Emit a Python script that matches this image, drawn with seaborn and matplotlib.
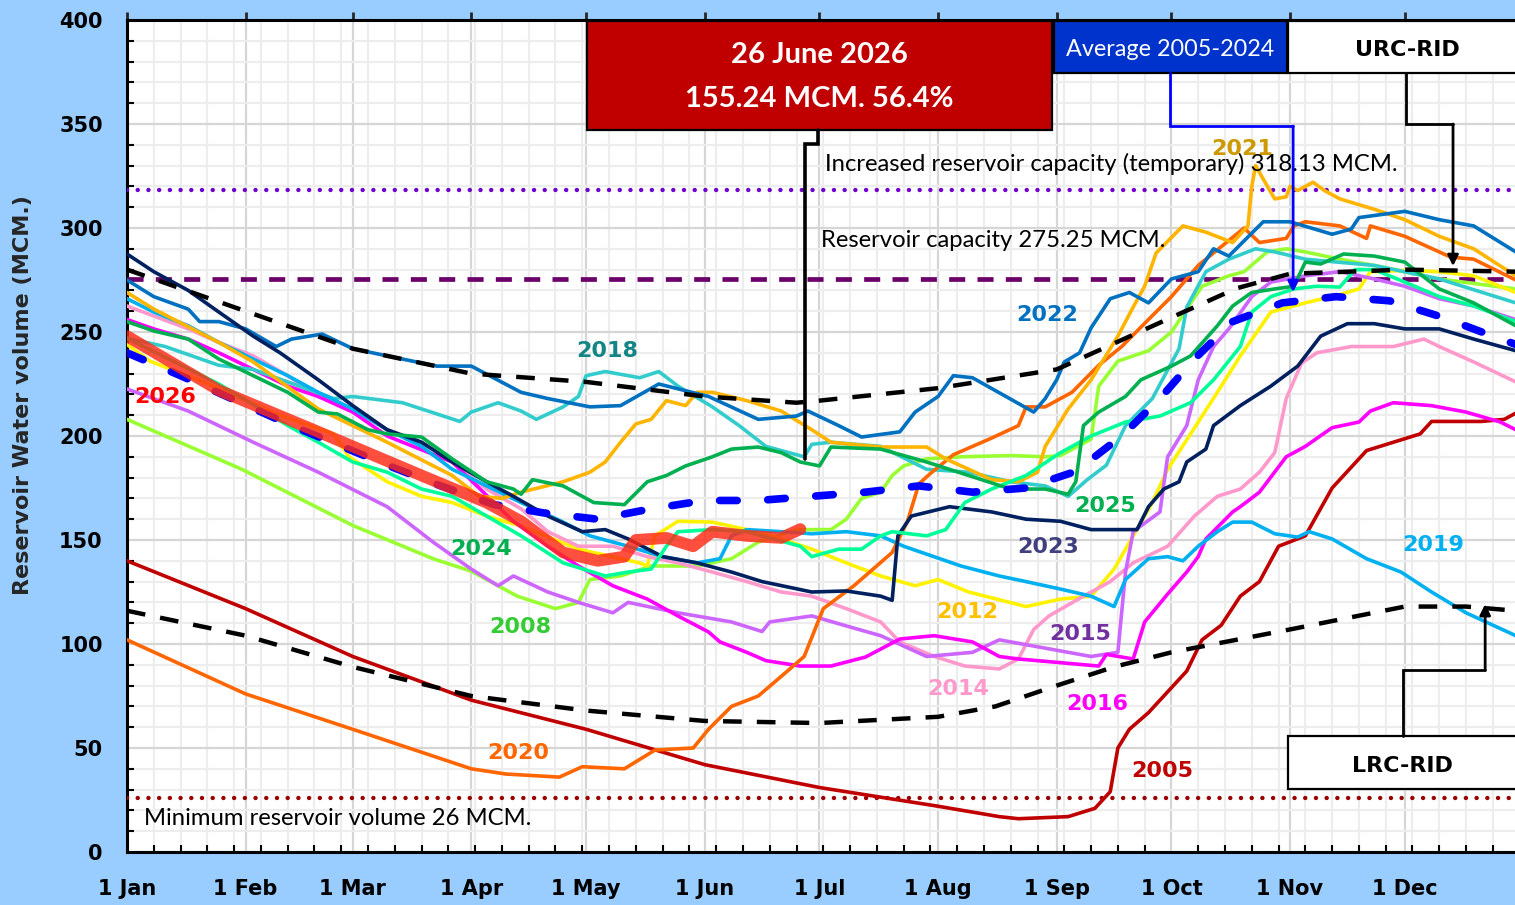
import matplotlib
matplotlib.use("Agg")
import matplotlib.pyplot as plt
from matplotlib.patches import Rectangle
from matplotlib.ticker import MultipleLocator, FixedLocator, NullFormatter
import seaborn as sns

# Day of year (0 = 1 Jan) and reservoir volume (MCM)
month_days = [0, 31, 59, 90, 120, 151, 181, 212, 243, 273, 304, 334]
month_labels = ['1 Jan', '1 Feb', '1 Mar', '1 Apr', '1 May', '1 Jun',
                '1 Jul', '1 Aug', '1 Sep', '1 Oct', '1 Nov', '1 Dec']
y_ticks = [0, 50, 100, 150, 200, 250, 300, 350, 400]

INCREASED_CAPACITY = 318.13
CAPACITY = 275.25
MIN_VOLUME = 26

days_2005 = [0, 31, 59, 90, 120, 151, 181, 212, 228, 233, 246, 253, 257, 259, 262, 267, 272, 277, 281, 286,
             291, 296, 301, 308, 315, 324, 338, 341, 354, 360, 363]
vol_2005 = [140, 117, 94, 73, 59, 42, 31, 22, 17, 16, 17, 21, 29, 50, 59, 67, 77, 87, 102, 109,
            123, 130, 147, 152, 175, 193, 201, 207, 207, 208, 211]

days_2008 = [0, 30, 59, 80, 90, 102, 112, 118, 121, 129, 137, 149, 158, 165, 175, 184, 188, 192, 197, 200,
             203, 209, 218, 231, 240, 244, 252, 254, 259, 267, 273, 277, 281, 288, 292, 298, 303, 308, 317, 326,
             334, 343, 363]
vol_2008 = [208, 184, 157, 141, 135, 123, 117, 120, 131, 132.7, 137.5, 137.5, 141, 149, 155, 155, 160, 170, 173, 181,
            185.6, 189, 190, 190.6, 190, 190.6, 198.5, 224, 236, 241, 250, 261, 272, 277, 279, 288.5, 290, 288.5, 285, 282,
            279, 275.5, 270.7]

days_2012 = [0, 6, 20, 40, 54, 58, 68, 77, 85, 94, 103, 118, 134, 136, 138, 144, 153, 162, 171, 179,
             188, 197, 206, 212, 220, 235, 244, 252, 258, 263, 268, 272, 278, 285, 291, 299, 308, 317, 322, 325,
             334, 343, 352, 363]
vol_2012 = [244, 236, 226, 210, 201, 190, 178, 171, 168, 161.5, 156.7, 145.6, 139, 137.5, 152, 159, 158.6, 155, 150.5, 145.6,
            139, 132.7, 128, 131, 125, 118, 121.6, 123, 136, 152, 168, 184, 201, 221, 238.5, 259.6, 264, 268, 270.7, 279,
            279.6, 279, 277, 269]

days_2014 = [0, 7, 16, 24, 33, 42, 50, 59, 68, 77, 85, 94, 103, 110, 118, 127, 136, 144, 153, 162,
             171, 179, 188, 197, 202, 211, 219, 228, 233, 237, 241, 250, 257, 263, 272, 279, 285, 291, 296, 300,
             303, 307, 311, 320, 331, 339, 343, 352, 363]
vol_2014 = [262.5, 257.7, 251.5, 245, 238.5, 229, 219, 213, 203, 197, 187.5, 174.5, 165, 154, 147, 147, 142, 139, 134.6, 130,
            125, 123, 117, 110.6, 101, 94, 89.4, 88, 92.8, 107, 113.5, 123, 130, 139, 147, 161.5, 171, 174.5, 182.6, 192,
            218, 235, 240, 243, 243, 246.6, 243, 235.6, 226]

days_2015 = [0, 16, 33, 50, 68, 80, 90, 97, 101, 110, 118, 127, 131, 144, 158, 166, 168, 179, 188, 197,
             209, 221, 228, 237, 252, 259, 261, 263, 270, 272, 277, 280, 284, 288, 294, 299, 308, 317, 326, 334,
             343, 352, 363]
vol_2015 = [222.6, 212, 197, 182.6, 166, 149, 136, 128, 132.7, 125, 120, 115, 120, 115, 110.6, 106, 110.6, 113.5, 108.7, 104,
            94, 96, 102, 99, 94, 96, 134.6, 154, 163.5, 190, 205, 227, 243, 251.5, 267, 274, 277, 279, 275.5, 272,
            266, 262.5, 256]

days_2016 = [0, 7, 16, 24, 33, 42, 50, 59, 68, 85, 101, 110, 118, 127, 136, 144, 152, 155, 162, 167,
             176, 184, 193, 202, 211, 221, 228, 233, 254, 256, 263, 266, 272, 277, 280, 282, 289, 291, 296, 303,
             308, 315, 322, 325, 331, 341, 350, 359, 363]
vol_2016 = [256, 251.5, 246.6, 240, 232, 224, 219, 211.5, 200, 187.5, 159, 147, 137.5, 128, 121.6, 113.5, 105.8, 101, 96, 92,
            89.4, 89.4, 93.7, 102.4, 104, 101, 94, 92.8, 89.4, 95, 92.8, 110.6, 124, 134.6, 142, 150.5, 163.5, 166, 173, 190,
            195, 204, 206.7, 212, 216, 214.6, 211.5, 206.7, 203]

days_2018 = [0, 10, 24, 33, 54, 59, 72, 87, 90, 97, 103, 107, 114, 118, 120, 125, 134, 139, 144, 153,
             160, 167, 177, 179, 184, 197, 209, 220, 231, 240, 246, 251, 256, 261, 268, 275, 277, 282, 288, 295,
             300, 308, 326, 343, 363]
vol_2018 = [247, 243, 234, 232, 218, 219, 216, 207, 211.5, 216, 212, 208, 214, 219, 229, 231, 228, 231, 224, 214,
            205, 195, 190, 196, 197, 195, 184, 182.6, 178, 176, 171, 179, 186, 205, 218, 242, 262, 279, 285, 290,
            288.5, 285, 282, 275.5, 264]

days_2019 = [0, 7, 16, 24, 33, 42, 50, 59, 68, 77, 85, 94, 103, 114, 121, 131, 140, 149, 155, 158,
             162, 171, 179, 188, 197, 203, 218, 228, 235, 244, 252, 258, 261, 267, 272, 276, 280, 285, 289, 294,
             300, 306, 309, 315, 324, 333, 341, 350, 363]
vol_2019 = [266, 259.6, 253, 245, 237, 229, 221, 213, 203, 195, 184, 176, 168, 158.6, 152, 147, 142, 139, 141, 152,
            155, 154, 153, 154, 152, 147, 137.5, 132.7, 130, 126.4, 123, 118, 131, 141, 142, 140, 147, 154, 158.6, 158.6,
            153, 151.4, 154, 150.5, 141, 134.6, 125, 115, 104]

days_2020 = [0, 31, 59, 90, 99, 113, 119, 130, 138, 148, 152, 158, 165, 172, 177, 182, 190, 200, 204, 207,
             210, 216, 226, 233, 235, 240, 247, 254, 260, 267, 273, 280, 286, 292, 296, 303, 305, 308, 317, 324,
             325, 334, 346, 352, 363]
vol_2020 = [102, 76, 59, 40, 37.5, 36, 41, 40, 49, 50, 59, 70, 75, 86, 94, 117, 128, 144, 159, 177,
            182, 191, 199, 205, 214, 214, 221, 234, 243, 256, 267, 282, 291, 300, 293, 295, 301, 303, 301, 295,
            301, 296, 286, 285, 275]

days_2021 = [0, 7, 24, 33, 50, 68, 85, 92, 98, 103, 114, 121, 125, 129, 133, 137, 141, 146, 149, 153,
             162, 171, 179, 184, 197, 209, 214, 226, 233, 238, 240, 246, 252, 259, 263, 266, 269, 276, 282, 289,
             293, 294, 295, 297, 300, 303, 304, 306, 310, 313, 317, 326, 334, 343, 352, 363]
vol_2021 = [269, 261, 245, 235.6, 213, 197, 181, 171, 170, 173, 178, 182.6, 187.5, 197, 205.8, 208, 217, 214.6, 221, 221,
            217, 212, 203, 197, 194.7, 194.7, 189, 179, 178, 182.6, 195, 213, 227, 248, 262, 272, 288, 301, 298, 293,
            301, 320, 330, 323.5, 314, 315, 320, 318, 322, 318, 314, 309, 304, 296, 290, 277]

days_2022 = [0, 7, 16, 19, 24, 31, 39, 43, 51, 59, 68, 81, 90, 103, 110, 121, 129, 139, 152, 165,
             175, 178, 186, 192, 202, 206, 212, 216, 221, 237, 240, 243, 245, 249, 252, 257, 262, 267, 273, 280,
             284, 288, 297, 304, 315, 320, 322, 334, 343, 352, 363]
vol_2022 = [275, 267, 261, 255, 255, 251.5, 243, 246.6, 249, 242, 238.5, 233.6, 233.6, 221, 218, 214, 214.6, 225, 219, 208,
            209.6, 212, 205, 199.5, 202, 211.5, 219, 229, 228, 211.5, 218, 227, 235.6, 240, 252, 266, 269, 264, 275.5, 279,
            290, 286.5, 303, 303, 297, 299.5, 305, 308, 304, 301, 288.5]

days_2023 = [0, 7, 16, 24, 33, 40, 50, 59, 68, 77, 85, 94, 101, 110, 119, 125, 131, 140, 149, 158,
             166, 179, 188, 197, 200, 201.5, 205, 215, 226, 235, 244, 252, 264, 267, 271, 275, 277, 282, 284, 291,
             299, 306, 312, 319, 326, 334, 343, 352, 363]
vol_2023 = [287.5, 279, 270, 259.6, 248, 240, 227, 214.6, 203, 197, 187.5, 178, 171, 161.5, 154, 155, 150.5, 142, 139, 134.6,
            130, 125, 125.5, 123, 121, 152, 161.5, 166, 163.5, 160, 159, 155, 155, 166, 174.5, 178, 187.5, 193.7, 205, 214.6,
            224, 233.6, 248, 254, 254, 251.5, 251.5, 246.6, 241]

days_2024 = [0, 24, 43, 50, 59, 68, 77, 85, 94, 103, 114, 125, 131, 137, 141, 144, 153, 162, 169, 176,
             179, 186, 192, 197, 200, 209, 214, 219, 226, 235, 244, 252, 261, 270, 278, 284, 291, 294, 299, 305,
             311, 317, 321, 326, 334, 343, 352, 363]
vol_2024 = [247, 225, 204, 197, 187.5, 182.6, 174.5, 171, 161.5, 152, 139, 132.7, 134.6, 136, 147, 154, 155, 154, 150.5, 147,
            142, 145.6, 145.6, 152, 154, 152, 155, 168, 174.5, 181, 192, 200, 206.7, 209.6, 216, 227, 243, 259.6, 267, 270.7,
            272, 271.6, 280, 280, 274, 267, 262.5, 255]

days_2025 = [0, 7, 16, 24, 33, 42, 50, 55, 63, 68, 77, 85, 94, 101, 103, 106, 114, 122, 130, 136,
             141, 146, 153, 158, 165, 171, 176, 181, 184, 197, 209, 220, 231, 240, 246, 248, 250, 254, 261, 265,
             273, 278, 285, 289, 294, 300, 305, 308, 312, 318, 326, 334, 343, 352, 363]
vol_2025 = [255, 250.5, 246.6, 237, 229, 221, 211.5, 210.6, 203, 201, 199.5, 189, 178, 174.5, 172, 179, 176, 168, 167, 178,
            181, 185.6, 190, 193.7, 194.7, 192, 187.5, 185.6, 194.7, 193.7, 187.5, 181, 174.5, 174.5, 172, 178, 205, 211.5, 219, 227,
            233.6, 238.5, 253, 262.5, 269, 270.7, 272, 283.6, 282.7, 287.5, 286.5, 283.6, 270.7, 264, 253]

days_2026 = [0, 24, 50, 77, 94, 103, 114, 123, 130, 133, 141, 148, 153, 162, 171, 176]
vol_2026 = [248, 222, 202, 181, 168, 159, 144, 140, 142, 150, 151, 147, 154, 152, 151, 155.24]

avg_days = [0, 14, 43, 68, 82, 96, 109, 123, 137, 151, 165, 179, 193, 207, 221, 235, 248, 260, 270, 279,
            289, 302, 316, 330, 344, 357, 363]
avg_vol = [240, 229, 205, 186, 176, 167, 163, 160, 165, 169, 169, 171, 173, 176, 173, 175, 183, 200, 218, 237,
           255, 264, 267, 265, 257, 248, 244]

urc_days = [0, 31, 59, 90, 120, 151, 175, 181, 212, 243, 273, 290, 304, 334, 363]
urc_vol = [280, 260, 242, 230, 226, 219, 216, 217, 223, 232, 257, 271, 278, 280, 279]

lrc_days = [0, 31, 59, 90, 120, 151, 181, 212, 227, 243, 258, 273, 304, 334, 350, 363]
lrc_vol = [116, 104, 89, 75, 68, 63, 62, 65, 70, 80, 89, 96, 107, 118, 118, 116]

label_years = ['2026', '2018', '2024', '2008', '2020', '2022', '2021', '2012',
               '2014', '2015', '2016', '2023', '2025', '2019', '2005']


def draw_series(ax):
    # Older years first, so the recent ones sit on top like in the spreadsheet chart
    years = [
        (days_2005, vol_2005, '#C00000'),
        (days_2008, vol_2008, '#99FF33'),
        (days_2012, vol_2012, '#FFF200'),
        (days_2014, vol_2014, '#FF99CC'),
        (days_2015, vol_2015, '#CC66FF'),
        (days_2016, vol_2016, '#FF00FF'),
        (days_2018, vol_2018, '#33CCCC'),
        (days_2019, vol_2019, '#00B0F0'),
        (days_2020, vol_2020, '#FF6600'),
        (days_2021, vol_2021, '#FFB400'),
        (days_2022, vol_2022, '#0070C0'),
        (days_2023, vol_2023, '#002060'),
        (days_2024, vol_2024, '#00FF99'),
        (days_2025, vol_2025, '#00B050'),
    ]
    for d, v, c in years:
        sns.lineplot(x=d, y=v, ax=ax, color=c, linewidth=2.6, estimator=None,
                     sort=False, legend=False, zorder=4)

    # rule curves
    for d, v in [(urc_days, urc_vol), (lrc_days, lrc_vol)]:
        sns.lineplot(x=d, y=v, ax=ax, color='black', linewidth=3.2, estimator=None, sort=False,
                     legend=False, linestyle=(0, (4.2, 3.4)), zorder=5)

    # average 2005-2024
    sns.lineplot(x=avg_days, y=avg_vol, ax=ax, color='#0000FF', linewidth=5.5, estimator=None,
                 sort=False, legend=False, linestyle=(0, (2.3, 4.0)), dash_capstyle='round', zorder=5)

    # current year
    sns.lineplot(x=days_2026, y=vol_2026, ax=ax, color='#FF2A14', linewidth=8.5, alpha=0.82,
                 estimator=None, sort=False, legend=False, solid_capstyle='round', zorder=6)


def draw_reference_lines(ax):
    ax.axhline(INCREASED_CAPACITY, color='#7000D0', lw=3.2, linestyle=(0, (0.01, 2.4)),
               dash_capstyle='round', zorder=3)
    ax.axhline(CAPACITY, color='#6B006B', lw=3.4, linestyle=(0, (3.4, 2.6)), zorder=3)
    ax.axhline(MIN_VOLUME, color='#990000', lw=3.2, linestyle=(0, (0.01, 2.4)),
               dash_capstyle='round', zorder=3)

    txt = dict(family='Lato', fontsize=17.2, color='black', va='center', ha='left', zorder=8)
    ax.text(182.4, 330.8, 'Increased reservoir capacity (temporary) 318.13 MCM.', **txt)
    ax.text(181.4, 294.2, 'Reservoir capacity 275.25 MCM.', **txt)
    ax.text(4.4, 15.9, 'Minimum reservoir volume 26 MCM.', **txt)


def draw_year_labels(ax):
    spots = [(9.9, 218.8, '#FF0000'), (125.5, 240.9, '#138585'), (92.5, 145.7, '#00B050'),
             (102.7, 108.2, '#33CC33'), (102.2, 47.6, '#FF6600'), (240.5, 258.2, '#0070C0'),
             (291.4, 338.0, '#CC9900'), (219.5, 115.4, '#FFC000'), (217.2, 78.4, '#FF99CC'),
             (249.1, 104.8, '#7030A0'), (253.5, 71.2, '#FF00FF'), (240.7, 146.6, '#404080'),
             (255.6, 166.3, '#00B050'), (341.3, 147.6, '#00B0F0'), (270.5, 38.9, '#C00000')]
    for year, (x, y, c) in zip(label_years, spots):
        ax.text(x, y, year, color=c, fontsize=16, fontweight='bold', ha='center', va='center', zorder=7)


def elbow(ax, pts, color, lw, arrow=True):
    xs = [p[0] for p in pts]
    ys = [p[1] for p in pts]
    end = -1 if arrow else len(pts)
    ax.plot(xs[:end], ys[:end], color=color, lw=lw, clip_on=False, zorder=9,
            solid_joinstyle='miter')
    if arrow:
        ax.annotate('', xy=pts[-1], xytext=pts[-2], zorder=9,
                    arrowprops=dict(arrowstyle='-|>', color=color, lw=lw, mutation_scale=16,
                                    shrinkA=0, shrinkB=0))


def draw_boxes(ax):
    box = dict(linewidth=1.6, edgecolor='black', clip_on=False, zorder=9)
    ax.add_patch(Rectangle((120.2, 347.1), 121.6, 52.4, facecolor='#C00000', **box))
    ax.add_patch(Rectangle((242.3, 374.5), 60.9, 25.0, facecolor='#0033CC', **box))
    ax.add_patch(Rectangle((303.5, 374.5), 70.0, 25.0, facecolor='white', **box))
    ax.add_patch(Rectangle((303.5, 30.3), 70.0, 25.5, facecolor='white', **box))

    ax.text(181, 383.3, '26 June 2026', color='white', family='Lato', fontweight='bold',
            fontsize=21, ha='center', va='center', zorder=10)
    ax.text(181, 361.8, '155.24 MCM. 56.4%', color='white', family='Lato', fontweight='bold',
            fontsize=21, ha='center', va='center', zorder=10)
    ax.text(272.6, 386.0, 'Average 2005-2024', color='white', family='Lato',
            fontsize=16.8, ha='center', va='center', zorder=10)
    ax.text(334.6, 385.5, 'URC-RID', color='black', fontweight='bold',
            fontsize=16, ha='center', va='center', zorder=10)
    ax.text(333.5, 41.3, 'LRC-RID', color='black', fontweight='bold',
            fontsize=16, ha='center', va='center', zorder=10)

    elbow(ax, [(180.6, 347.1), (180.6, 340.4), (177.2, 340.4), (177.2, 189)], 'black', 2.6, arrow=False)
    elbow(ax, [(272.6, 374.5), (272.6, 349), (304.8, 349), (304.8, 269.2)], '#0000FF', 2.0)
    elbow(ax, [(334.3, 374.5), (334.3, 350), (346.6, 350), (346.6, 281.7)], 'black', 2.0)
    elbow(ax, [(333.5, 55.8), (333.5, 87.5), (355.0, 87.5), (355.0, 119.2)], 'black', 2.0)


def plot_reservoir(save_path: str = 'out.png'):
    sns.set_style('white')
    plt.rcParams['font.family'] = ['DejaVu Sans']

    fig = plt.figure(figsize=(15.15, 9.05), dpi=100)
    fig.patch.set_facecolor('#99CCFF')
    ax = fig.add_axes([127 / 1515, 53 / 905, 1388 / 1515, 832 / 905])
    ax.set_facecolor('white')

    draw_reference_lines(ax)
    draw_series(ax)
    draw_year_labels(ax)
    draw_boxes(ax)

    ax.set_xlim(0, 362.8)
    ax.set_ylim(0, 400)

    ax.xaxis.set_major_locator(FixedLocator(month_days))
    ax.set_xticklabels(month_labels)
    ax.xaxis.set_minor_locator(MultipleLocator(7))
    ax.set_yticks(y_ticks)
    ax.yaxis.set_minor_locator(MultipleLocator(10))
    for lab in ax.get_xticklabels() + ax.get_yticklabels():
        lab.set_fontweight('bold')
        lab.set_fontsize(15)

    ax.tick_params(axis='both', which='major', direction='inout', length=11, width=2, colors='black')
    ax.tick_params(axis='x', which='major', pad=14)
    ax.tick_params(axis='y', which='major', pad=12)
    ax.tick_params(axis='both', which='minor', direction='in', length=5, width=1.5, colors='black')
    ax.tick_params(axis='x', which='minor', bottom=True)
    ax.tick_params(axis='y', which='minor', left=True)

    top = ax.secondary_xaxis('top')
    top.set_xticks(month_days)
    top.xaxis.set_major_formatter(NullFormatter())
    top.tick_params(direction='out', length=6, width=2)
    top.spines['top'].set_linewidth(2)

    ax.grid(which='major', color='#D6D6D6', linewidth=1.6)
    ax.grid(which='minor', color='#EDEDED', linewidth=1.6)
    ax.set_axisbelow(True)

    for side in ['left', 'bottom', 'top']:
        ax.spines[side].set_color('black')
        ax.spines[side].set_linewidth(2.2)
    ax.spines['right'].set_visible(False)

    ax.set_xlabel('')
    ax.set_ylabel('Reservoir Water volume (MCM.)', fontsize=16, fontweight='bold')
    ax.yaxis.set_label_coords(-0.068, 0.549)

    fig.savefig(save_path, dpi=100, facecolor=fig.get_facecolor())


if __name__ == '__main__':
    plot_reservoir('out.png')
